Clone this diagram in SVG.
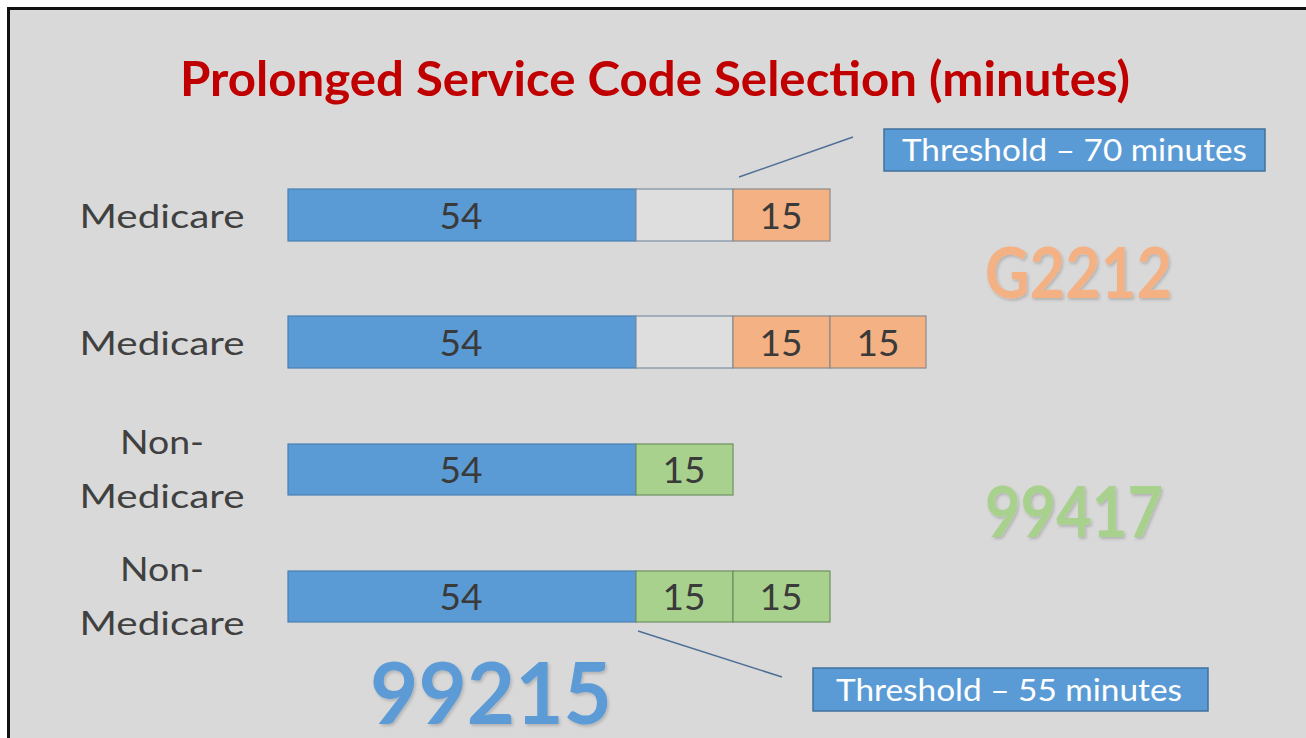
<svg xmlns="http://www.w3.org/2000/svg" width="1306" height="738" viewBox="0 0 1306 738">
  <defs>
    <style>
      .lbl { font-family: Lato, "Open Sans", sans-serif; font-size: 32px; fill: #404040; text-anchor: middle; }
      .num { font-family: Lato, "Open Sans", sans-serif; font-size: 37px; fill: #3a3a3a; text-anchor: middle; }
      .big { font-family: Lato, "Open Sans", sans-serif; font-weight: bold; }
      .thr { font-family: Lato, "Open Sans", sans-serif; font-size: 30px; fill: #ffffff; }
      .blue { fill: #5b9bd5; stroke: #4a7fb5; stroke-width: 1.2; }
      .empty { fill: #dedede; stroke: #7d8fa3; stroke-width: 1.2; }
      .orange { fill: #f4b183; stroke: #8a8a8a; stroke-width: 1.2; }
      .green { fill: #a9d18e; stroke: #6f8f5f; stroke-width: 1.2; }
      .tbox { fill: #5b9bd5; stroke: #41719c; stroke-width: 1.5; }
      .lead { stroke: #4f6f95; stroke-width: 1.5; fill: none; }
    </style>
    <filter id="soft" x="-10%" y="-10%" width="120%" height="130%">
      <feDropShadow dx="1.5" dy="2" stdDeviation="1.5" flood-color="#000000" flood-opacity="0.18"/>
    </filter>
  </defs>

  <!-- page and frame -->
  <rect x="0" y="0" width="1306" height="738" fill="#ffffff"/>
  <rect x="8.5" y="8.5" width="1310" height="740" fill="#d9d9d9" stroke="#111111" stroke-width="3"/>

  <text x="655" y="96" font-family="Lato, 'Open Sans', sans-serif" font-weight="bold" font-size="47" fill="#c00000" text-anchor="middle" textLength="950" lengthAdjust="spacingAndGlyphs">Prolonged Service Code Selection (minutes)</text>

  <!-- row labels -->
  <g id="label-row1"><text class="lbl" x="162" y="228" textLength="165" lengthAdjust="spacingAndGlyphs">Medicare</text></g>
  <g id="label-row2"><text class="lbl" x="162" y="355" textLength="165" lengthAdjust="spacingAndGlyphs">Medicare</text></g>
  <g id="label-row3">
    <text class="lbl" x="162" y="454" textLength="84" lengthAdjust="spacingAndGlyphs">Non-</text>
    <text class="lbl" x="162" y="508" textLength="165" lengthAdjust="spacingAndGlyphs">Medicare</text>
  </g>
  <g id="label-row4">
    <text class="lbl" x="162" y="581" textLength="84" lengthAdjust="spacingAndGlyphs">Non-</text>
    <text class="lbl" x="162" y="635" textLength="165" lengthAdjust="spacingAndGlyphs">Medicare</text>
  </g>

  <!-- row 1: Medicare, one G2212 unit -->
  <g id="bar-row1">
    <rect class="blue" x="288" y="189" width="348" height="52"/>
    <rect class="empty" x="636" y="189" width="97" height="52"/>
    <rect class="orange" x="733" y="189" width="97" height="52"/>
    <text class="num" x="461" y="229">54</text>
    <text class="num" x="781" y="229">15</text>
  </g>

  <!-- row 2: Medicare, two G2212 units -->
  <g id="bar-row2">
    <rect class="blue" x="288" y="316" width="348" height="52"/>
    <rect class="empty" x="636" y="316" width="97" height="52"/>
    <rect class="orange" x="733" y="316" width="97" height="52"/>
    <rect class="orange" x="830" y="316" width="96" height="52"/>
    <text class="num" x="461" y="356">54</text>
    <text class="num" x="781" y="356">15</text>
    <text class="num" x="878" y="356">15</text>
  </g>

  <!-- row 3: non-Medicare, one 99417 unit -->
  <g id="bar-row3">
    <rect class="blue" x="288" y="444" width="348" height="51"/>
    <rect class="green" x="636" y="444" width="97" height="51"/>
    <text class="num" x="461" y="483">54</text>
    <text class="num" x="684" y="483">15</text>
  </g>

  <!-- row 4: non-Medicare, two 99417 units -->
  <g id="bar-row4">
    <rect class="blue" x="288" y="571" width="348" height="51"/>
    <rect class="green" x="636" y="571" width="97" height="51"/>
    <rect class="green" x="733" y="571" width="97" height="51"/>
    <text class="num" x="461" y="610">54</text>
    <text class="num" x="684" y="610">15</text>
    <text class="num" x="781" y="610">15</text>
  </g>

  <!-- threshold callouts -->
  <g id="threshold-70">
    <rect class="tbox" x="884" y="129" width="381" height="42"/>
    <text class="thr" x="902" y="161" textLength="345" lengthAdjust="spacingAndGlyphs">Threshold – 70 minutes</text>
  </g>
  <g id="threshold-55">
    <rect class="tbox" x="813" y="668" width="395" height="43"/>
    <text class="thr" x="836" y="701" textLength="346" lengthAdjust="spacingAndGlyphs">Threshold – 55 minutes</text>
  </g>

  <g id="connectors">
    <line class="lead" x1="739" y1="177" x2="853" y2="137"/>
    <line class="lead" x1="638" y1="631" x2="782" y2="677"/>
  </g>

  <!-- billing codes -->
  <g id="code-g2212"><text class="big" x="985" y="298" font-size="70" fill="#f4b183" filter="url(#soft)" textLength="187" lengthAdjust="spacingAndGlyphs">G2212</text></g>
  <g id="code-99417"><text class="big" x="985" y="537" font-size="70" fill="#a9d18e" filter="url(#soft)" textLength="178" lengthAdjust="spacingAndGlyphs">99417</text></g>
  <g id="code-99215"><text class="big" x="370" y="724" font-size="86" fill="#5b9bd5" filter="url(#soft)" textLength="242" lengthAdjust="spacingAndGlyphs">99215</text></g>
</svg>
